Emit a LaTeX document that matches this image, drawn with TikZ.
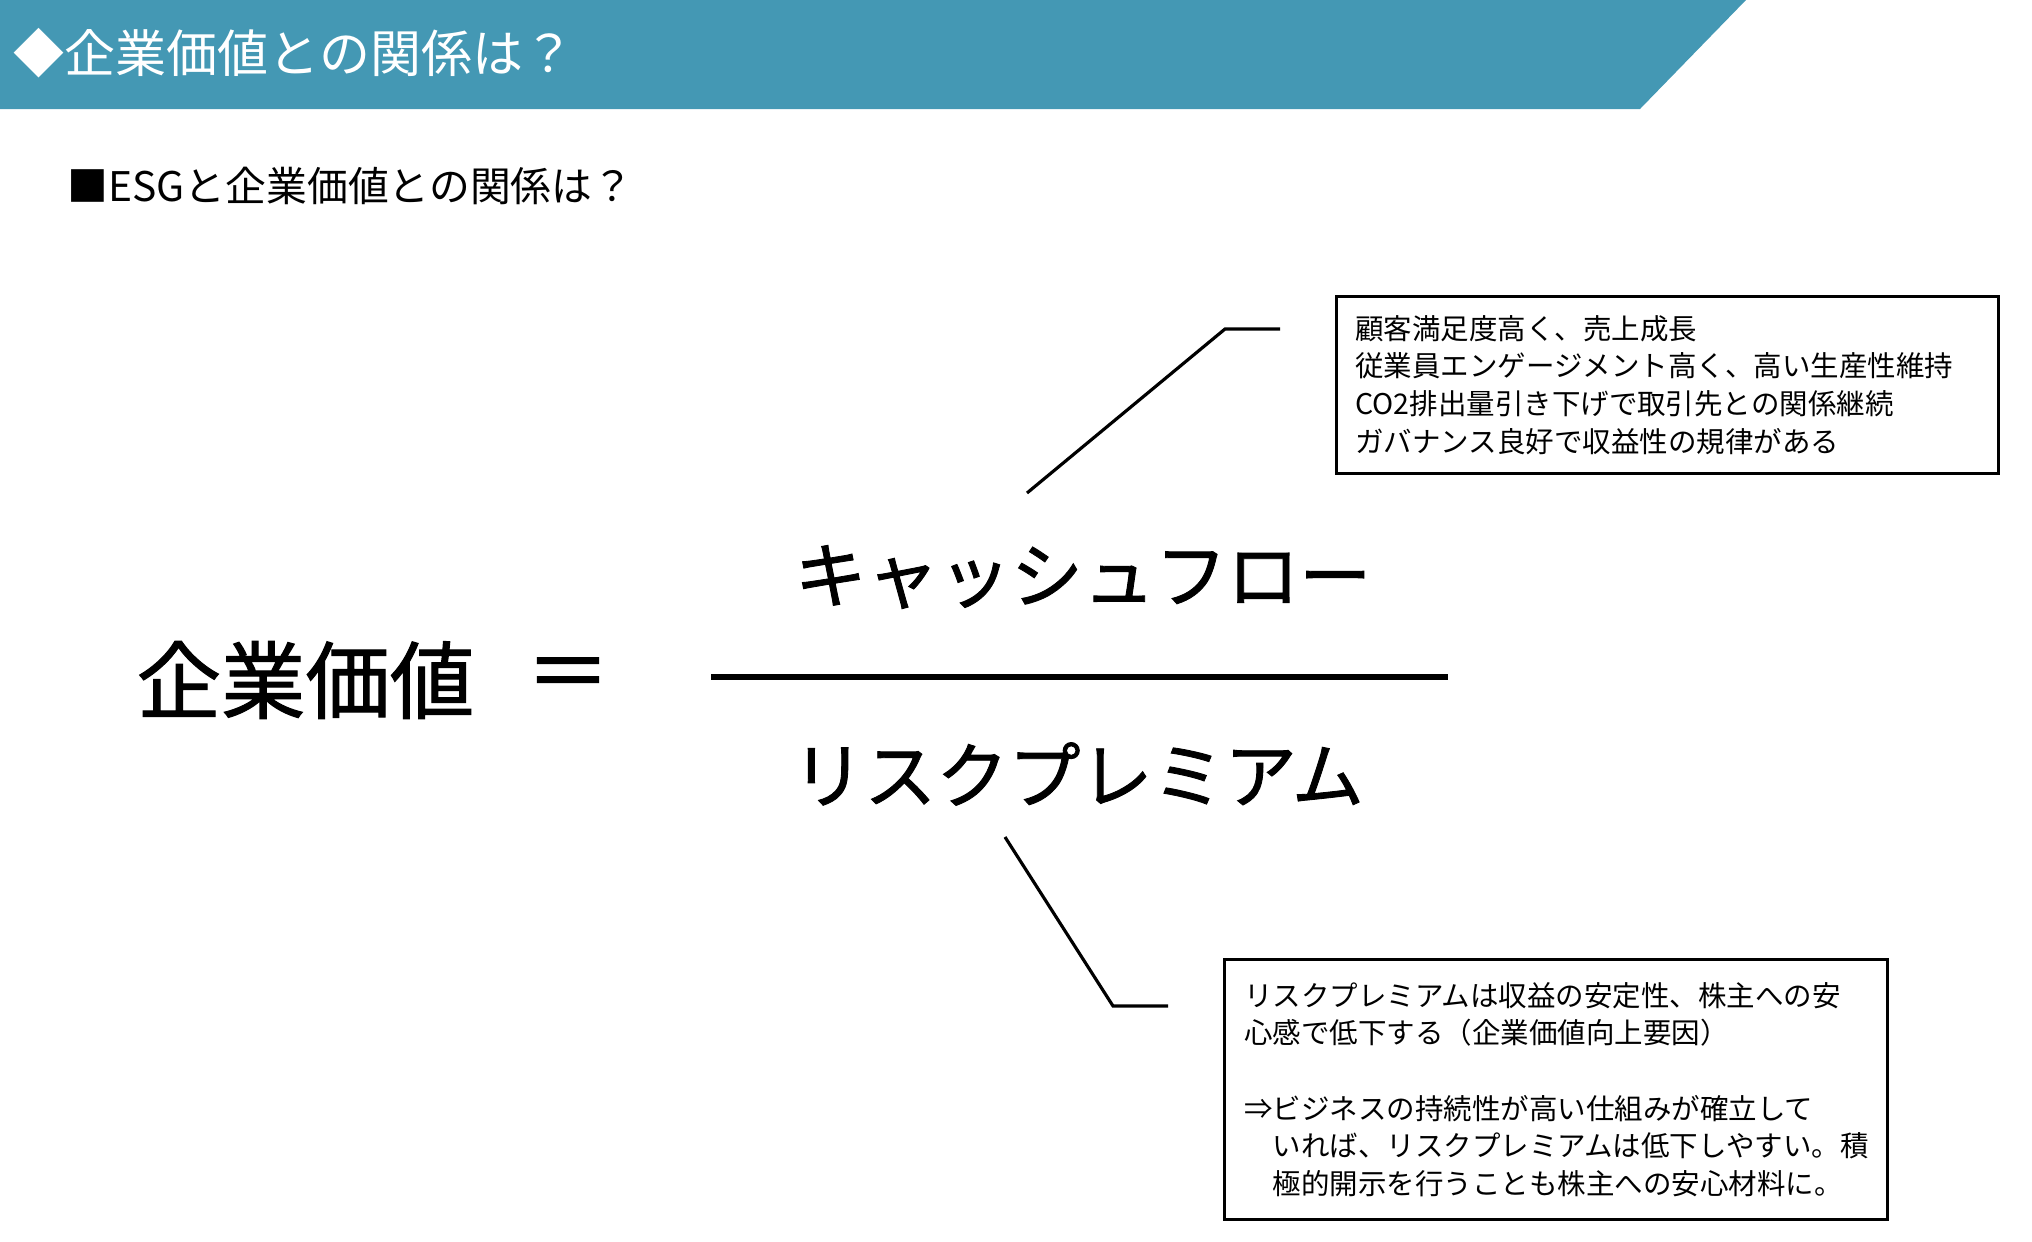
\documentclass[tikz,border=0pt]{standalone}
\usepackage{fontspec}
\setmainfont{Noto Sans CJK JP}
\newfontfamily\medio[FakeBold=1.2]{Noto Sans CJK JP}
\usepackage{tikz}
\definecolor{cabecera}{HTML}{4498B4}
\tikzset{
  titulo/.style={text=white, inner sep=0pt, anchor=west, font=\fontsize{14.5pt}{17pt}\selectfont},
  subtitulo/.style={text=black, inner sep=0pt, anchor=west, font=\fontsize{11.6pt}{14pt}\selectfont},
  grande/.style={inner sep=0pt, font=\fontsize{24pt}{28pt}\selectfont\medio},
  termino/.style={inner sep=0pt, font=\fontsize{20.5pt}{24pt}\selectfont\medio},
  nota/.style={draw=black, line width=0.8pt, anchor=north west, align=left,
               inner xsep=0.19cm, inner ysep=0pt, font=\fontsize{8.1pt}{10.7pt}\selectfont},
  linea/.style={line width=0.9pt, black},
  barra/.style={line width=1.7pt, black},
}

\begin{document}
\begin{tikzpicture}[x=0.01cm, y=-0.01cm]
  \useasboundingbox (0,0) rectangle (2032,1242);
  % cabecera
  \fill[cabecera] (0,0) -- (1746,0) -- (1640,109) -- (0,109) -- cycle;
  \node[titulo] (T) at (13,53) {◆企業価値との関係は？};
  \node[subtitulo] (S) at (67,186) {■ESGと企業価値との関係は？};
  % formula
  \node[grande, anchor=west] (V) at (136,680) {企業価値};
  \node[grande] (Q) at (568,680) {＝};
  \node[termino] (C) at (1083,577) {キャッシュフロー};
  \node[termino] (R) at (1078,774) {リスクプレミアム};
  \draw[barra] (711,677) -- (1448,677);
  % notas
  \node[nota, text width=6.24cm, minimum width=6.62cm, minimum height=1.77cm] (A) at (1335,295)
    {顧客満足度高く、売上成長\\従業員エンゲージメント高く、高い生産性維持\\CO2排出量引き下げで取引先との関係継続\\ガバナンス良好で収益性の規律がある};
  \node[nota, text width=6.23cm, minimum width=6.63cm, minimum height=2.6cm] (B) at (1223,958)
    {リスクプレミアムは収益の安定性、株主への安\\心感で低下する（企業価値向上要因）\\[\baselineskip]
     ⇒ビジネスの持続性が高い仕組みが確立して\\\hspace*{1em}いれば、リスクプレミアムは低下しやすい。積\\\hspace*{1em}極的開示を行うことも株主への安心材料に。};
  \coordinate (c1) at (1027,493);
  \coordinate (c2) at (1225,329);
  \coordinate (c3) at (1280,329);
  \coordinate (r1) at (1005,837);
  \coordinate (r2) at (1113,1006);
  \coordinate (r3) at (1168,1006);
  \draw[linea] (c1) -- (c2) -- (c3);
  \draw[linea] (r1) -- (r2) -- (r3);
\end{tikzpicture}
\end{document}
